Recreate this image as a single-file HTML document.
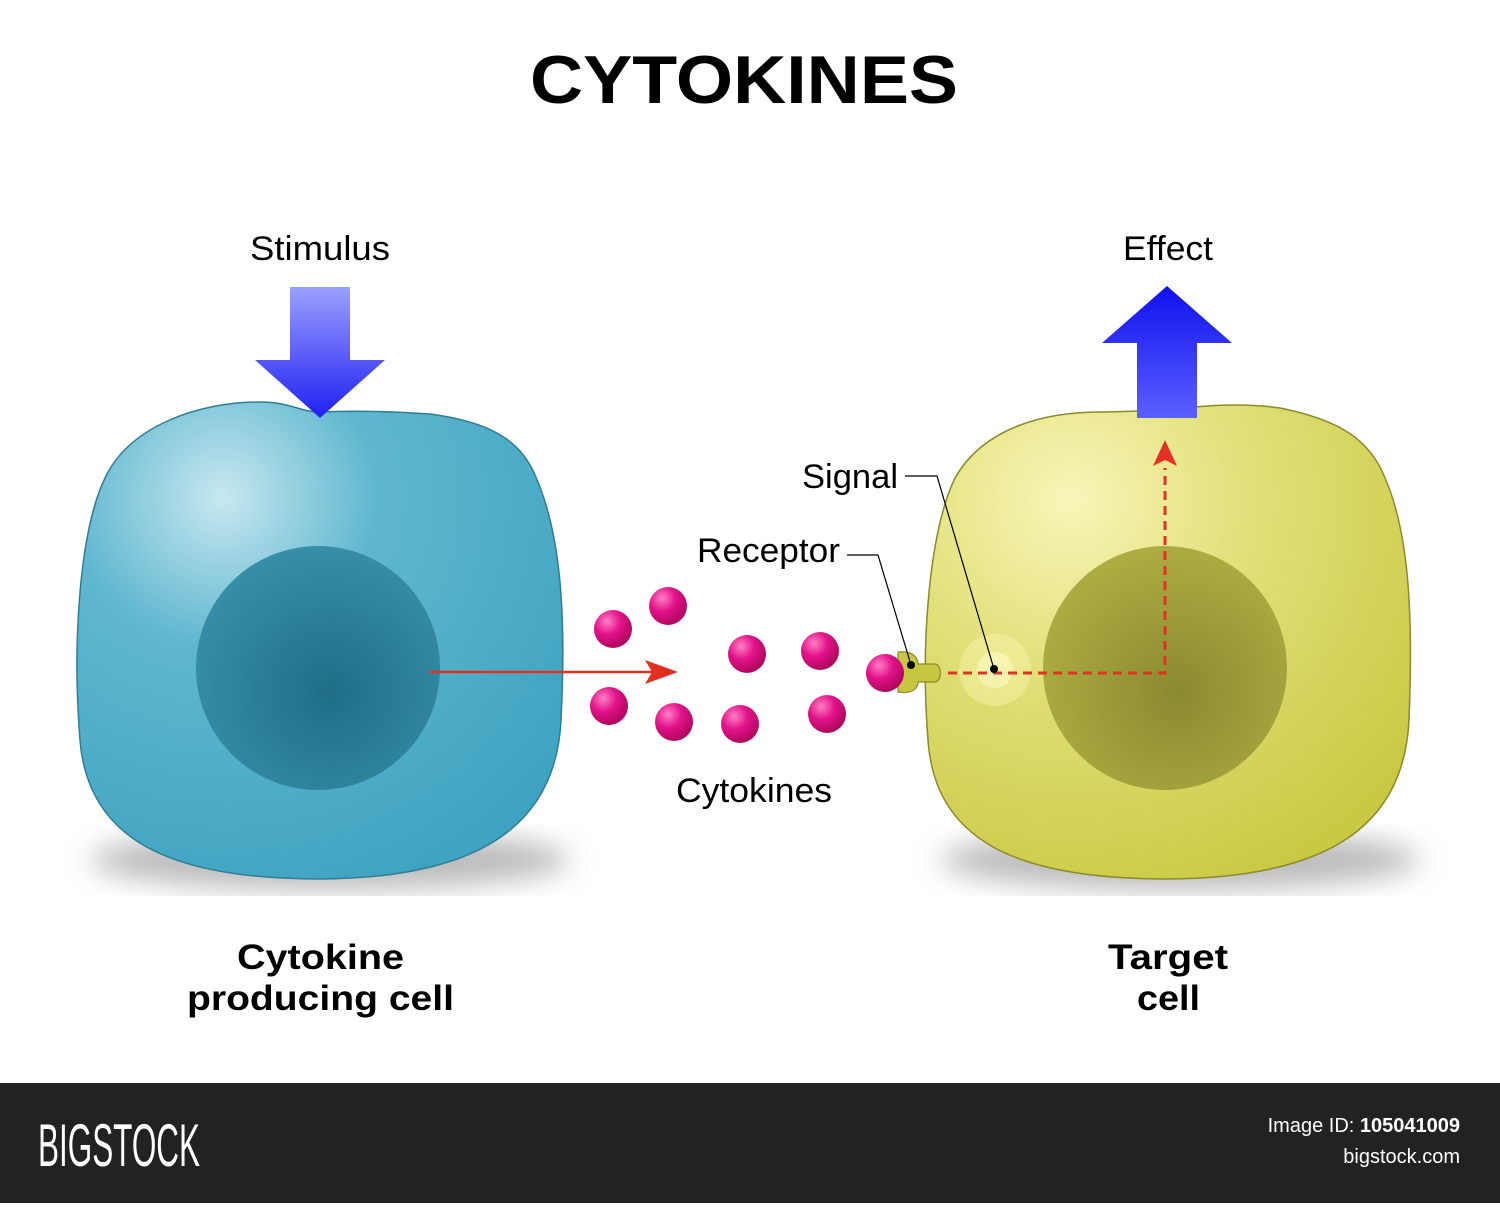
<!DOCTYPE html>
<html><head><style>
body{margin:0;width:1500px;height:1203px;background:#fff;overflow:hidden;font-family:"Liberation Sans",sans-serif;}
</style></head><body>
<svg width="1500" height="1203" viewBox="0 0 1500 1203" xmlns="http://www.w3.org/2000/svg">
<defs>
<radialGradient id="bc" cx="0.3" cy="0.2" r="0.9">
<stop offset="0" stop-color="#c8e8f0"/><stop offset="0.35" stop-color="#5fb7cf"/><stop offset="1" stop-color="#3ea2c0"/></radialGradient>
<radialGradient id="bn" cx="0.55" cy="0.6" r="0.7">
<stop offset="0" stop-color="#1f6e86"/><stop offset="1" stop-color="#3b93ad"/></radialGradient>
<radialGradient id="yc" cx="0.3" cy="0.2" r="0.9">
<stop offset="0" stop-color="#f8f6b8"/><stop offset="0.4" stop-color="#e2e07a"/><stop offset="1" stop-color="#c9c842"/></radialGradient>
<radialGradient id="yn" cx="0.55" cy="0.6" r="0.7">
<stop offset="0" stop-color="#8a8a30"/><stop offset="1" stop-color="#b3b245"/></radialGradient>
<radialGradient id="pk" cx="0.35" cy="0.3" r="0.7">
<stop offset="0" stop-color="#ff7fc4"/><stop offset="0.5" stop-color="#e3128a"/><stop offset="1" stop-color="#b0085f"/></radialGradient>
<linearGradient id="ar" x1="0" y1="0" x2="0" y2="1">
<stop offset="0" stop-color="#9aa0ff"/><stop offset="1" stop-color="#2020f0"/></linearGradient>
<linearGradient id="ar2" x1="0" y1="1" x2="0" y2="0">
<stop offset="0" stop-color="#5a60ff"/><stop offset="1" stop-color="#1010ee"/></linearGradient>
<filter id="bl"><feGaussianBlur stdDeviation="14"/></filter>
</defs>
<text x="530" y="103" font-size="68" font-weight="bold" fill="#000" textLength="428" lengthAdjust="spacingAndGlyphs">CYTOKINES</text>
<ellipse cx="330" cy="860" rx="240" ry="30" fill="#bbb" filter="url(#bl)"/>
<ellipse cx="1180" cy="860" rx="240" ry="30" fill="#bbb" filter="url(#bl)"/>
<path d="M320 412 C360 410 400 412 430 414 C490 422 520 440 535 475 C562 535 566 620 561 720 C556 825 480 878 320 879 C170 879 88 840 80 740 C72 640 80 530 105 478 C130 425 200 402 260 402 C290 402 300 412 320 412Z" fill="url(#bc)" stroke="#2f7d94" stroke-width="1.5"/>
<circle cx="318" cy="668" r="122" fill="url(#bn)"/>
<path d="M1167 410 C1200 406 1240 402 1280 408 C1340 420 1370 440 1385 478 C1410 535 1413 620 1409 720 C1404 825 1330 878 1167 879 C1015 879 935 840 928 740 C920 640 930 530 955 478 C985 425 1050 412 1100 412 C1130 412 1150 410 1167 410Z" fill="url(#yc)" stroke="#8a8a2a" stroke-width="1.5"/>
<circle cx="1165" cy="668" r="122" fill="url(#yn)"/>
<circle cx="995" cy="670" r="36" fill="#ffffc0" opacity="0.35"/>
<circle cx="995" cy="670" r="18" fill="#ffffd0" opacity="0.5"/>
<path d="M290 287 H350 V360 H385 L320 418 L255 360 H290Z" fill="url(#ar)"/>
<path d="M1137 418 V343 H1102 L1167 286 L1232 343 H1197 V418Z" fill="url(#ar2)"/>
<line x1="430" y1="672" x2="655" y2="672" stroke="#e03020" stroke-width="2.5"/>
<path d="M678 672 L645 660 L652 672 L645 684Z" fill="#e03020"/>
<path d="M948 673 H1165 V468" fill="none" stroke="#e53025" stroke-width="3" stroke-dasharray="9,6"/>
<path d="M1165 440 L1153 466 L1165 460 L1177 466Z" fill="#e53025"/>
<path d="M898 652 C915 650 918 660 918 664 H935 C942 664 942 682 935 682 H918 C918 690 910 694 898 692Z" fill="#c8c640" stroke="#8a8a2a" stroke-width="1.2"/>
<g fill="url(#pk)">
<circle cx="613" cy="629" r="19"/><circle cx="668" cy="606" r="19"/><circle cx="747" cy="654" r="19"/><circle cx="820" cy="651" r="19"/>
<circle cx="609" cy="706" r="19"/><circle cx="674" cy="722" r="19"/><circle cx="740" cy="724" r="19"/><circle cx="827" cy="714" r="19"/><circle cx="885" cy="673" r="19"/>
</g>
<g stroke="#000" stroke-width="1.2" fill="none">
<path d="M847 555 H878 L911 665"/><path d="M905 476 H937 L994 669"/>
</g>
<circle cx="911" cy="665" r="4" fill="#000"/><circle cx="994" cy="669" r="4" fill="#000"/>
<g font-size="34" fill="#000" lengthAdjust="spacingAndGlyphs">
<text x="250" y="260" textLength="140" lengthAdjust="spacingAndGlyphs">Stimulus</text>
<text x="1123" y="260" textLength="90" lengthAdjust="spacingAndGlyphs">Effect</text>
<text x="802" y="488" textLength="96" lengthAdjust="spacingAndGlyphs">Signal</text>
<text x="697" y="562" textLength="143" lengthAdjust="spacingAndGlyphs">Receptor</text>
<text x="676" y="802" textLength="156" lengthAdjust="spacingAndGlyphs">Cytokines</text>
</g>
<g font-size="35" font-weight="bold" fill="#000">
<text x="237" y="969" textLength="167" lengthAdjust="spacingAndGlyphs">Cytokine</text>
<text x="187" y="1010" textLength="267" lengthAdjust="spacingAndGlyphs">producing cell</text>
<text x="1108" y="969" textLength="120" lengthAdjust="spacingAndGlyphs">Target</text>
<text x="1137" y="1010" textLength="63" lengthAdjust="spacingAndGlyphs">cell</text>
</g>
<rect x="0" y="1083" width="1500" height="120" fill="#222"/>
<text x="38" y="1166" font-size="60" fill="#fff" textLength="162" lengthAdjust="spacingAndGlyphs">BIGSTOCK</text>
<text x="1460" y="1132" font-size="20" fill="#fff" text-anchor="end">Image ID: <tspan font-weight="bold">105041009</tspan></text>
<text x="1460" y="1163" font-size="20" fill="#fff" text-anchor="end">bigstock.com</text>
</svg>
</body></html>
